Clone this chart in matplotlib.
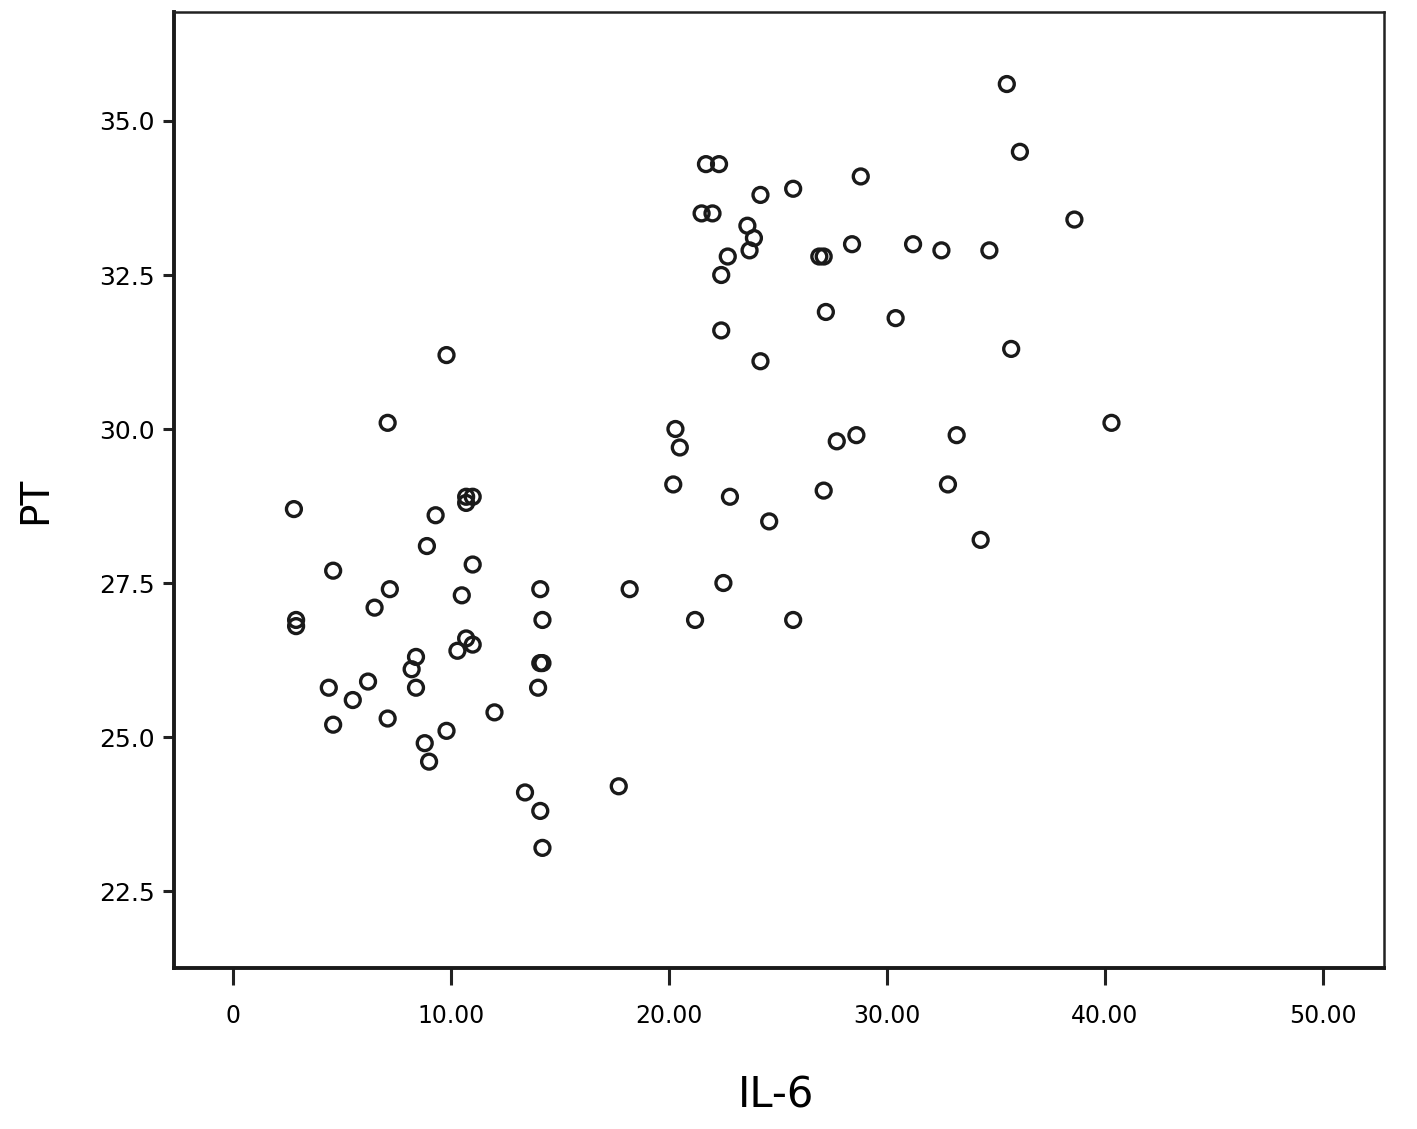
import matplotlib
matplotlib.use('Agg')
import matplotlib.pyplot as plt

# IL-6 vs PT values
il6 = [2.8, 2.9, 2.9, 4.6, 4.4, 4.6, 5.5, 6.2, 6.5, 7.1,
       7.2, 7.1, 8.2, 8.4, 8.4, 8.9, 9.3, 8.8, 9.0, 9.8,
       9.8, 10.3, 10.5, 10.7, 11.0, 10.7, 11.0, 10.7, 11.0, 12.0,
       13.4, 14.1, 14.2, 14.1, 14.2, 14.0, 14.1, 14.2, 17.7, 18.2,
       20.3, 20.5, 20.2, 21.2, 21.7, 22.3, 21.5, 22.0, 22.4, 22.7,
       22.4, 22.5, 22.8, 23.6, 23.9, 23.7, 24.2, 24.2, 24.6, 25.7,
       25.7, 26.9, 27.1, 27.2, 27.1, 27.7, 28.4, 28.8, 28.6, 30.4,
       31.2, 32.5, 32.8, 33.2, 34.3, 34.7, 35.5, 35.7, 36.1, 38.6,
       40.3]
pt = [28.7, 26.9, 26.8, 27.7, 25.8, 25.2, 25.6, 25.9, 27.1, 30.1,
      27.4, 25.3, 26.1, 26.3, 25.8, 28.1, 28.6, 24.9, 24.6, 25.1,
      31.2, 26.4, 27.3, 26.6, 26.5, 28.9, 28.9, 28.8, 27.8, 25.4,
      24.1, 27.4, 26.9, 26.2, 26.2, 25.8, 23.8, 23.2, 24.2, 27.4,
      30.0, 29.7, 29.1, 26.9, 34.3, 34.3, 33.5, 33.5, 32.5, 32.8,
      31.6, 27.5, 28.9, 33.3, 33.1, 32.9, 33.8, 31.1, 28.5, 33.9,
      26.9, 32.8, 32.8, 31.9, 29.0, 29.8, 33.0, 34.1, 29.9, 31.8,
      33.0, 32.9, 29.1, 29.9, 28.2, 32.9, 35.6, 31.3, 34.5, 33.4,
      30.1]

xticks = [0, 10, 20, 30, 40, 50]
xticklabels = ['0', '10.00', '20.00', '30.00', '40.00', '50.00']
yticks = [22.5, 25.0, 27.5, 30.0, 32.5, 35.0]
yticklabels = ['22.5', '25.0', '27.5', '30.0', '32.5', '35.0']

fig = plt.figure(figsize=(14.17, 11.29), dpi=100)
ax = fig.add_axes([0.1228, 0.1426, 0.8539, 0.8468])

ax.scatter(il6, pt, s=115, facecolors='none', edgecolors='#1a1a1a', linewidths=2.4, zorder=3)

ax.set_xlim(-2.7, 52.8)
ax.set_ylim(21.25, 36.77)

ax.set_xticks(xticks)
ax.set_xticklabels(xticklabels, family=['Liberation Sans Narrow', 'DejaVu Sans'], fontsize=17)
ax.set_yticks(yticks)
ax.set_yticklabels(yticklabels, family=['DejaVu Sans'], fontsize=18)

ax.tick_params(axis='x', length=12, width=2.2, pad=14, color='#222222')
ax.tick_params(axis='y', length=8, width=2.2, pad=6, color='#222222')

for side in ['left', 'bottom']:
    ax.spines[side].set_linewidth(2.8)
    ax.spines[side].set_color('#1a1a1a')
for side in ['top', 'right']:
    ax.spines[side].set_linewidth(1.8)
    ax.spines[side].set_color('#222222')

fig.text(0.548, 0.030, 'IL-6', ha='center', va='center', fontsize=30,
         family=['Liberation Sans Narrow', 'DejaVu Sans'])
fig.text(0.025, 0.557, 'PT', ha='center', va='center', fontsize=28, rotation=90,
         family=['Liberation Sans Narrow', 'DejaVu Sans'])

fig.savefig('out.png', dpi=100)
